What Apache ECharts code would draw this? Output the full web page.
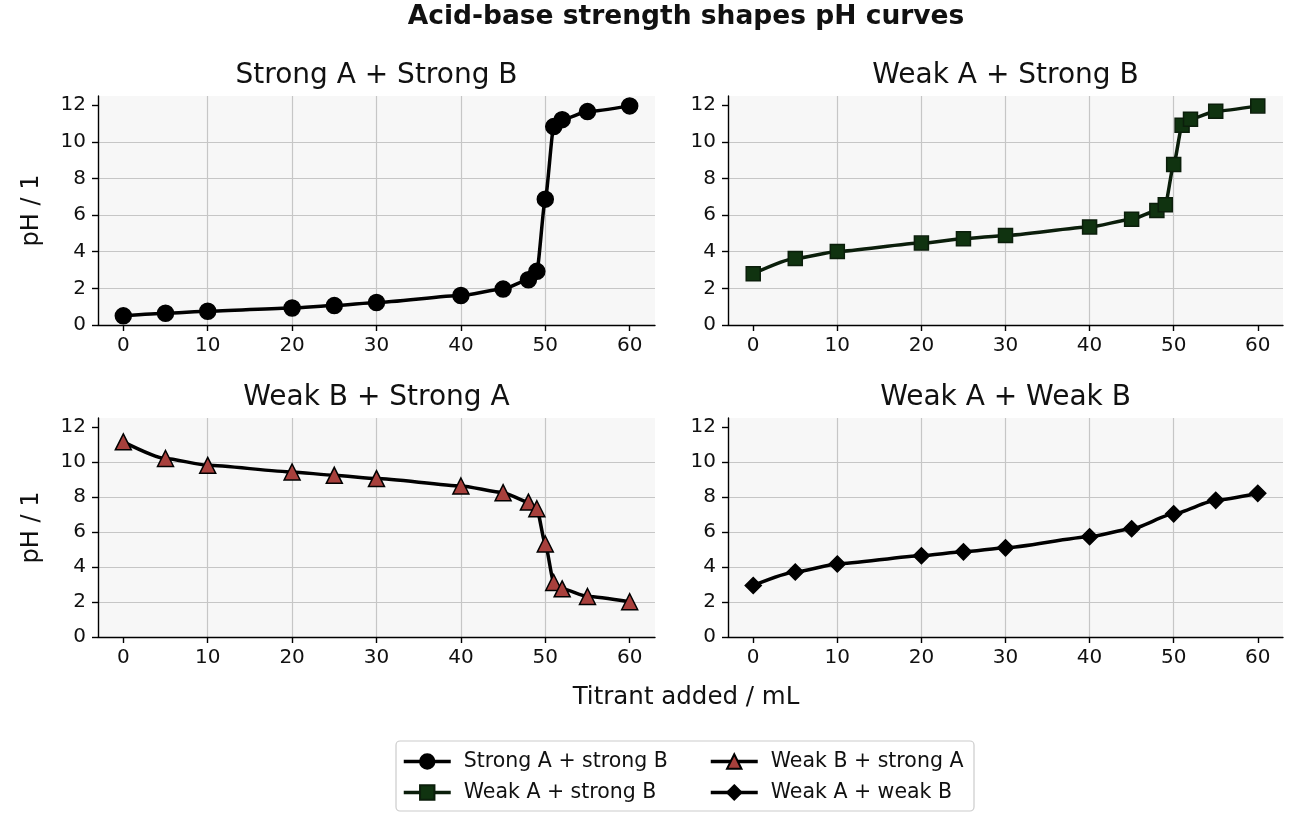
<!DOCTYPE html>
<html>
<head>
<meta charset="utf-8">
<script src="https://cdn.jsdelivr.net/npm/echarts@6/dist/echarts.min.js"></script>
<style>
  html, body { margin: 0; padding: 0; background: #fff; }
  #main { width: 1292px; height: 816px; }
</style>
</head>
<body>
<div id="main"></div>
<script>
// titrant volumes (mL) at the marked points
var volumes = [0, 5, 10, 20, 25, 30, 40, 45, 48, 49, 50, 51, 52, 55, 60];
var volumesWeakWeak = [0, 5, 10, 20, 25, 30, 40, 45, 50, 55, 60];

// pH
var phStrongStrong = [0.5, 0.64, 0.75, 0.93, 1.06, 1.23, 1.61, 1.96, 2.47, 2.93, 6.87, 10.83, 11.21, 11.65, 11.96];
var phWeakAcid = [2.8, 3.63, 4.01, 4.47, 4.71, 4.89, 5.35, 5.77, 6.25, 6.56, 8.76, 10.9, 11.23, 11.67, 11.96];
var phWeakBase = [11.14, 10.19, 9.8, 9.42, 9.23, 9.04, 8.62, 8.24, 7.7, 7.32, 5.31, 3.11, 2.75, 2.31, 2.01];
var phWeakWeak = [2.94, 3.71, 4.17, 4.64, 4.86, 5.09, 5.72, 6.18, 7.03, 7.8, 8.2];

var xTicks = [0, 10, 20, 30, 40, 50, 60];
var yTicks = [0, 2, 4, 6, 8, 10, 12];

var panelTitles = ['Strong A + Strong B', 'Weak A + Strong B', 'Weak B + Strong A', 'Weak A + Weak B'];
var seriesNames = ['Strong A + strong B', 'Weak A + strong B', 'Weak B + strong A', 'Weak A + weak B'];

var FONT = 'DejaVu Sans';

var grids = [
    {left: 98, top: 96, width: 557, height: 229},
    {left: 728, top: 96, width: 555, height: 229},
    {left: 98, top: 418, width: 557, height: 219},
    {left: 728, top: 418, width: 555, height: 219}
];

function pairs(xs, ys) {
    return xs.map(function (x, i) { return [x, ys[i]]; });
}

var myChart = echarts.init(document.getElementById('main'));

var xAxes = [], yAxes = [], titles = [];
grids.forEach(function (g, i) {
    g.show = true;
    g.backgroundColor = '#f7f7f7';
    g.borderWidth = 0;
    g.containLabel = false;

    xAxes.push({
        type: 'value',
        gridIndex: i,
        min: -3,
        max: 63,
        axisLine: {show: true, onZero: false, lineStyle: {color: '#000', width: 1.4}},
        axisTick: {show: true, length: 6, customValues: xTicks, lineStyle: {color: '#000', width: 1.4}},
        axisLabel: {customValues: xTicks, fontSize: 20, color: '#111', margin: 11, fontFamily: FONT},
        splitLine: {show: true, showMinLine: false, showMaxLine: false, lineStyle: {color: '#c6c6c6', width: 1.2}}
    });
    yAxes.push({
        type: 'value',
        gridIndex: i,
        min: 0,
        max: 12.5,
        interval: 2,
        name: i % 2 === 0 ? 'pH / 1' : '',
        nameLocation: 'middle',
        nameGap: 54,
        nameTextStyle: {fontSize: 24, color: '#111', fontFamily: FONT},
        axisLine: {show: true, onZero: false, lineStyle: {color: '#000', width: 1.4}},
        axisTick: {show: true, length: 6, customValues: yTicks, lineStyle: {color: '#000', width: 1.4}},
        axisLabel: {customValues: yTicks, fontSize: 20, color: '#111', margin: 12, fontFamily: FONT},
        splitLine: {show: true, showMinLine: false, showMaxLine: false, lineStyle: {color: '#c6c6c6', width: 1.2}}
    });
    titles.push({
        text: panelTitles[i],
        left: g.left + g.width / 2,
        top: i < 2 ? 62 : 384,
        textAlign: 'center',
        padding: 0,
        textStyle: {fontSize: 28, fontWeight: 'normal', color: '#111', fontFamily: FONT}
    });
});

titles.push({
    text: 'Acid-base strength shapes pH curves',
    left: 686,
    top: 4,
    textAlign: 'center',
    padding: 0,
    textStyle: {fontSize: 26.5, fontWeight: 'bold', color: '#111', fontFamily: FONT}
});
titles.push({
    text: 'Titrant added / mL',
    left: 686,
    top: 685,
    textAlign: 'center',
    padding: 0,
    textStyle: {fontSize: 24.5, fontWeight: 'normal', color: '#111', fontFamily: FONT}
});

function lineSeries(name, idx, data, symbol, lineColor, fill, edge) {
    return {
        name: name,
        type: 'line',
        xAxisIndex: idx,
        yAxisIndex: idx,
        data: data,
        smooth: 0.2,
        smoothMonotone: 'x',
        symbol: symbol,
        symbolSize: symbol === 'rect' ? 14 : 16,
        showAllSymbol: true,
        lineStyle: {color: lineColor, width: 3.5},
        itemStyle: {color: fill, borderColor: edge, borderWidth: 1.5},
        emphasis: {disabled: true},
        z: 3
    };
}

var legendText = {fontSize: 20.5, color: '#111', fontFamily: FONT, padding: [0, 0, 0, 8]};

function legendColumn(left, names) {
    return {
        orient: 'vertical',
        left: left,
        top: 751,
        padding: 0,
        itemGap: 10,
        itemWidth: 47,
        itemHeight: 18,
        data: names,
        textStyle: legendText,
        lineStyle: {width: 3.5},
        selectedMode: false
    };
}

myChart.setOption({
    animation: false,
    title: titles,
    grid: grids,
    xAxis: xAxes,
    yAxis: yAxes,
    legend: [
        legendColumn(402, [seriesNames[0], seriesNames[1]]),
        legendColumn(709, [seriesNames[2], seriesNames[3]])
    ],
    graphic: [{
        type: 'rect',
        shape: {x: 396, y: 741, width: 578, height: 70, r: 4},
        style: {fill: '#fff', stroke: '#cccccc', lineWidth: 1.2},
        z: -1
    }],
    series: [
        lineSeries(seriesNames[0], 0, pairs(volumes, phStrongStrong), 'circle', '#000', '#000', '#000'),
        lineSeries(seriesNames[1], 1, pairs(volumes, phWeakAcid), 'rect', '#0b1e0b', '#103310', '#0b1e0b'),
        lineSeries(seriesNames[2], 2, pairs(volumes, phWeakBase), 'triangle', '#000', '#a8403c', '#000'),
        lineSeries(seriesNames[3], 3, pairs(volumesWeakWeak, phWeakWeak), 'diamond', '#000', '#000', '#000')
    ]
});
</script>
</body>
</html>
